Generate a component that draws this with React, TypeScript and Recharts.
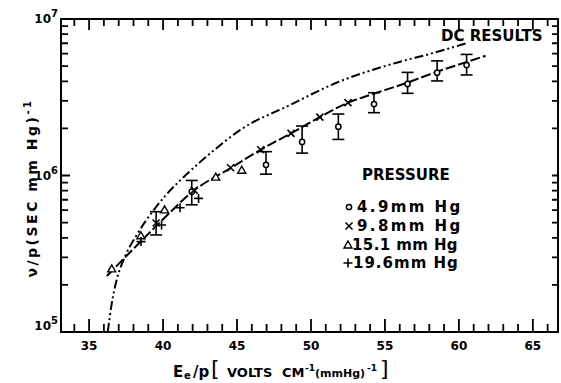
import React from "react";
import { ComposedChart, XAxis, YAxis, Line, Scatter, ErrorBar } from "recharts";

// axis ticks
const xTicks = [34, 35, 36, 37, 38, 39, 40, 41, 42, 43, 44, 45, 46, 47, 48, 49, 50, 51, 52, 53, 54, 55, 56, 57, 58, 59, 60, 61, 62, 63, 64, 65, 66];
const yTicks = [1e5, 2e5, 3e5, 4e5, 5e5, 6e5, 7e5, 8e5, 9e5, 1e6, 2e6, 3e6, 4e6, 5e6, 6e6, 7e6, 8e6, 9e6, 1e7];
const xDomain = [33.1, 66.7];
const yDomain = [1e5, 1e7];

// DC results curve
const dcX = [36.26, 36.53, 36.86, 37.32, 38.22, 39.46, 40.25, 41.7, 43.4, 45.2, 48.58, 51.6, 55.79, 58.2, 60.5];
const dcY = [1.0e5, 1.52e5, 2.15e5, 2.88e5, 4.17e5, 6.17e5, 7.6e5, 1.04e6, 1.44e6, 1.95e6, 2.82e6, 3.87e6, 5.26e6, 6.04e6, 7.0e6];

// fitted curve through the measurements
const fitX = [36.2, 38.0, 40.0, 42.0, 44.6, 46.6, 48.65, 50.6, 52.5, 54.0, 56.5, 58.5, 60.5, 61.8];
const fitY = [2.28e5, 3.4e5, 5.25e5, 7.9e5, 1.12e6, 1.46e6, 1.86e6, 2.36e6, 2.92e6, 3.27e6, 3.92e6, 4.6e6, 5.3e6, 5.82e6];

// 4.9 mm Hg (circles, with error bars)
const circX = [41.94, 46.96, 49.4, 51.85, 54.26, 56.53, 58.53, 60.52];
const circY = [7.88e5, 1.17e6, 1.64e6, 2.05e6, 2.86e6, 3.85e6, 4.54e6, 5.08e6];
const circLo = [6.5e5, 1.02e6, 1.39e6, 1.7e6, 2.52e6, 3.35e6, 4.02e6, 4.39e6];
const circHi = [9.3e5, 1.42e6, 2.07e6, 2.47e6, 3.38e6, 4.56e6, 5.4e6, 5.94e6];

// 9.8 mm Hg (crosses)
const crossX = [39.53, 42.1, 44.57, 46.6, 48.65, 50.6, 52.5];
const crossY = [4.97e5, 8.07e5, 1.12e6, 1.46e6, 1.86e6, 2.36e6, 2.92e6];
const crossBarX = [39.53];
const crossBarY = [4.97e5];
const crossBarLo = [4.17e5];
const crossBarHi = [5.87e5];

// 15.1 mm Hg (triangles)
const triX = [36.53, 38.5, 40.1, 43.56, 45.32];
const triY = [2.53e5, 4.12e5, 6.03e5, 9.77e5, 1.08e6];

// 19.6 mm Hg (plus)
const plusX = [38.51, 39.9, 41.15, 42.4];
const plusY = [3.78e5, 4.83e5, 6.22e5, 7.14e5];

const pairs = (xs: number[], ys: number[]) => xs.map((x, i) => ({ x, y: ys[i] }));
const dcData = pairs(dcX, dcY);
const fitData = pairs(fitX, fitY);
const circData = circX.map((x, i) => ({ x, y: circY[i], err: [circY[i] - circLo[i], circHi[i] - circY[i]] }));
const crossData = pairs(crossX, crossY);
const crossBarData = crossBarX.map((x, i) => ({ x, y: crossBarY[i], err: [crossBarY[i] - crossBarLo[i], crossBarHi[i] - crossBarY[i]] }));
const triData = pairs(triX, triY);
const plusData = pairs(plusX, plusY);

const W = 561;
const H = 383;
const MARGIN = { top: 19, right: 3 };
const X_AXIS_H = 51;
const Y_AXIS_W = 61;
// plot box implied by the margins and axis sizes above
const PLOT = { left: Y_AXIS_W, right: W - MARGIN.right, top: MARGIN.top, bottom: H - X_AXIS_H };
const FONT = "'DejaVu Sans', sans-serif";
const INK = "#000";

// same mapping as the chart's own axes, used only for the frame tick marks
const sx = (v: number) => PLOT.left + ((v - xDomain[0]) / (xDomain[1] - xDomain[0])) * (PLOT.right - PLOT.left);
const sy = (v: number) =>
  PLOT.top + ((Math.log10(yDomain[1]) - Math.log10(v)) / (Math.log10(yDomain[1]) - Math.log10(yDomain[0]))) * (PLOT.bottom - PLOT.top);
const isDecade = (v: number) => Math.abs(v - Math.pow(10, Math.round(Math.log10(v)))) < 1;

const Circ = ({ cx, cy }: any) => <circle cx={cx} cy={cy} r={2.6} fill="#fff" stroke={INK} strokeWidth={1.5} />;
const Cross = ({ cx, cy }: any) => (
  <path d={`M${cx - 3.5},${cy - 3.5}L${cx + 3.5},${cy + 3.5}M${cx - 3.5},${cy + 3.5}L${cx + 3.5},${cy - 3.5}`} stroke={INK} strokeWidth={1.6} fill="none" />
);
const Tri = ({ cx, cy }: any) => (
  <path d={`M${cx},${cy - 4}L${cx + 4},${cy + 3}L${cx - 4},${cy + 3}Z`} fill="#fff" stroke={INK} strokeWidth={1.4} />
);
const Plus = ({ cx, cy }: any) => (
  <path d={`M${cx - 4.5},${cy}L${cx + 4.5},${cy}M${cx},${cy - 4.5}L${cx},${cy + 4.5}`} stroke={INK} strokeWidth={1.6} fill="none" />
);
const Empty = () => <g />;

const BottomLabel = (props: any) => {
  const { x, y, payload } = props;
  const v = payload.value;
  if (v % 5 !== 0) return <g />;
  return (
    <text x={x} y={y + 18} textAnchor="middle" fontSize={12} fontWeight="bold" fontFamily={FONT} fill={INK}>
      {v}
    </text>
  );
};

const LeftLabel = (props: any) => {
  const { x, y, payload } = props;
  const v = payload.value;
  if (!isDecade(v)) return <g />;
  const exp = Math.round(Math.log10(v));
  const base = exp === 5 ? y - 2 : y + 4;
  return (
    <text x={x - 3} y={base} textAnchor="end" fontSize={12} fontWeight="bold" fontFamily={FONT} fill={INK}>
      10<tspan dy={-6} fontSize={10}>{exp}</tspan>
    </text>
  );
};

function Frame() {
  const d: string[] = [];
  xTicks.forEach((v) => {
    const x = sx(v);
    const major = v % 5 === 0;
    d.push(`M${x},${PLOT.bottom}V${PLOT.bottom - (major ? 13 : 8)}`);
    d.push(`M${x},${PLOT.top}V${PLOT.top + (major ? 11 : 7)}`);
  });
  yTicks.forEach((v) => {
    const y = sy(v);
    d.push(`M${PLOT.left},${y}H${PLOT.left + (isDecade(v) ? 9 : 7)}`);
    d.push(`M${PLOT.right},${y}H${PLOT.right - 6}`);
  });
  return (
    <g>
      <rect x={PLOT.left} y={PLOT.top} width={PLOT.right - PLOT.left} height={PLOT.bottom - PLOT.top} fill="none" stroke={INK} strokeWidth={2} />
      <path d={d.join("")} stroke={INK} strokeWidth={1.8} fill="none" />
    </g>
  );
}

export default function App() {
  return (
    <div style={{ position: "absolute", left: 0, top: 0, width: W, height: H, background: "#fff" }}>
      <div style={{ position: "absolute", left: 0, top: 0 }}>
        <ComposedChart width={W} height={H} margin={{ top: MARGIN.top, right: MARGIN.right, bottom: 0, left: 0 }}>
          <XAxis
            dataKey="x"
            type="number"
            domain={xDomain}
            ticks={xTicks}
            interval={0}
            height={X_AXIS_H}
            tickSize={0}
            tickMargin={0}
            tickLine={false}
            axisLine={{ stroke: INK, strokeWidth: 2 }}
            tick={BottomLabel}
          />
          <YAxis
            dataKey="y"
            type="number"
            scale="log"
            domain={yDomain}
            ticks={yTicks}
            interval={0}
            width={Y_AXIS_W}
            tickSize={0}
            tickMargin={0}
            tickLine={false}
            axisLine={{ stroke: INK, strokeWidth: 2 }}
            tick={LeftLabel}
          />
          <Line data={dcData} dataKey="y" type="monotone" stroke={INK} strokeWidth={2} strokeDasharray="9 3 2 3 2 3" dot={false} isAnimationActive={false} />
          <Line data={fitData} dataKey="y" type="monotone" stroke={INK} strokeWidth={2} strokeDasharray="10 3" dot={false} isAnimationActive={false} />
          <Scatter data={circData} dataKey="y" shape={<Circ />} isAnimationActive={false}>
            <ErrorBar dataKey="err" direction="y" width={6} stroke={INK} strokeWidth={1.6} isAnimationActive={false} />
          </Scatter>
          <Scatter data={crossBarData} dataKey="y" shape={<Empty />} isAnimationActive={false}>
            <ErrorBar dataKey="err" direction="y" width={6} stroke={INK} strokeWidth={1.6} isAnimationActive={false} />
          </Scatter>
          <Scatter data={crossData} dataKey="y" shape={<Cross />} isAnimationActive={false} />
          <Scatter data={triData} dataKey="y" shape={<Tri />} isAnimationActive={false} />
          <Scatter data={plusData} dataKey="y" shape={<Plus />} isAnimationActive={false} />
        </ComposedChart>
      </div>

      <svg width={W} height={H} style={{ position: "absolute", left: 0, top: 0, pointerEvents: "none" }} fontFamily={FONT} fill={INK}>
        <Frame />

        <text x={441} y={41} fontSize={15} fontWeight="bold">DC RESULTS</text>
        <text x={362} y={180} fontSize={15} fontWeight="bold">PRESSURE</text>
        <Circ cx={349} cy={207} />
        <text x={357} y={212} fontSize={15} fontWeight="bold" letterSpacing={2.4}>4.9mm Hg</text>
        <Cross cx={349} cy={226} />
        <text x={357} y={231} fontSize={15} fontWeight="bold" letterSpacing={2.4}>9.8mm Hg</text>
        <Tri cx={348} cy={245} />
        <text x={352} y={250} fontSize={15} fontWeight="bold" letterSpacing={0.4}>15.1 mm Hg</text>
        <Plus cx={348} cy={263} />
        <text x={353} y={268} fontSize={15} fontWeight="bold" letterSpacing={1.0}>19.6mm Hg</text>

        <text transform="translate(37,188) rotate(-90)" textAnchor="middle" fontSize={14} fontWeight="bold" letterSpacing={2.5}>
          ν/p(SEC mm Hg)<tspan dy={-6} fontSize={10}>-1</tspan>
        </text>

        <text y={377} fontSize={15} fontWeight="bold">
          <tspan x={173}>E</tspan>
          <tspan x={184} dy={2} fontSize={10}>e</tspan>
          <tspan x={193} dy={-2}>/p</tspan>
          <tspan x={211} dy={-1} fontSize={22} fontWeight="normal">[</tspan>
          <tspan x={227} dy={1} fontSize={13}>VOLTS</tspan>
          <tspan x={282} fontSize={13}>CM</tspan>
          <tspan x={305} dy={-6} fontSize={9}>-1</tspan>
          <tspan x={315} dy={6} fontSize={11}>(mmHg)</tspan>
          <tspan x={367} dy={-6} fontSize={9}>-1</tspan>
          <tspan x={380} dy={5} fontSize={22} fontWeight="normal">]</tspan>
        </text>
      </svg>
    </div>
  );
}
